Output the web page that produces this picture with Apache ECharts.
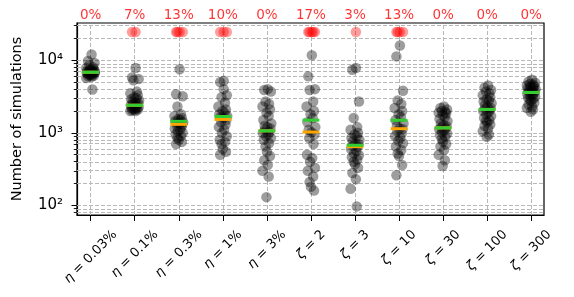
<!DOCTYPE html>
<html><head><meta charset="utf-8">
<script src="https://cdn.jsdelivr.net/npm/echarts@6/dist/echarts.min.js"></script>
<style>html,body{margin:0;padding:0;background:#fff}#c{width:574px;height:297px}</style>
</head><body><div id="c"></div>
<script>
// ---- data ----
const catSymbol = ['η','η','η','η','η','ζ','ζ','ζ','ζ','ζ','ζ'];
const catValue = ['0.03%','0.1%','0.3%','1%','3%','2','3','10','30','100','300'];
const failPct = ['0%','7%','13%','10%','0%','17%','3%','13%','0%','0%','0%'];
const failCount = [0,2,4,3,0,5,1,4,0,0,0];
const failValue = 24500;

const eta003 = [12000,9800,9200,8600,8000,7800,7500,7300,7200,7100,7000,6950,6900,6850,6800,6800,6750,6700,6650,6600,6500,6400,6300,6200,6100,6000,5900,5700,3950,7400];
const eta01 = [7800,5800,5500,5300,3700,3500,3300,3100,3000,2900,2800,2700,2600,2550,2500,2450,2400,2350,2300,2250,2200,2200,2150,2100,2100,2050,2000,2000];
const eta03 = [7500,3400,3200,2300,1800,1700,1600,1550,1500,1450,1400,1380,1350,1300,1250,1200,1150,1100,1050,1000,950,900,850,800,750,700];
const eta1 = [5200,5000,3300,3100,2600,2300,2100,2000,1900,1800,1700,1650,1600,1500,1400,1300,1200,1100,1000,900,800,750,700,600,550,500,4000];
const eta3 = [4000,3900,3700,2700,2500,2300,2100,1900,1700,1500,1350,1250,1200,1150,1100,1030,1000,950,900,850,800,720,650,550,480,420,360,300,250,130];
const zeta2 = [11700,6000,4000,3900,2700,2300,2000,1800,1600,1400,1200,1100,1020,950,850,700,500,450,400,330,300,250,210,180,160];
const zeta3 = [7800,7400,2700,1600,1200,1100,1000,950,900,850,800,760,720,690,660,640,600,560,520,490,460,430,400,370,330,280,230,170,97];
const zeta10 = [16000,11300,3800,2800,2500,2200,2000,1800,1650,1500,1350,1250,1150,1130,1050,980,900,850,780,720,650,580,520,480,360,260];
const zeta30 = [2300,2200,2100,2000,1950,1900,1850,1750,1650,1550,1450,1350,1280,1230,1180,1160,1120,1070,1020,980,930,880,820,760,700,650,580,500,420,350];
const zeta100 = [4500,4200,3900,3700,3500,3300,3100,2900,2800,2700,2550,2400,2300,2200,2150,2050,2000,1900,1800,1700,1600,1500,1450,1400,1300,1250,1150,1050,950,880];
const zeta300 = [5400,5100,4900,4700,4600,4500,4400,4300,4200,4100,4000,3900,3800,3700,3650,3550,3450,3350,3250,3150,3050,2950,2850,2750,2600,2450,2300,2200,2100,1950];

const medianAll = [6840,2400,1440,1680,1065,1495,675,1490,1170,2100,3600];   // green
const medianOk  = [6840,2400,1310,1530,1065,1025,645,1140,1170,2100,3600];   // orange

const jitter = [0.02,-0.06,0.09,-0.03,0.05,-0.10,0.07,-0.01,0.04,-0.08,0.10,-0.05,0.01,0.08,-0.04,0.06,-0.09,0.03,-0.02,0.09,-0.07,0.05,-0.03,0.00,0.07,-0.06,0.02,-0.10,0.04,-0.01];

const yTickValues = [100,1000,10000];
const yTickLabels = ['10²','10³','10⁴'];
const yMinorValues = [80,90,200,300,400,500,600,700,800,900,2000,3000,4000,5000,6000,7000,8000,9000,20000,30000];
const yMin = 73.8, yMax = 32600;

// ---- build ----
const cols = [eta003,eta01,eta03,eta1,eta3,zeta2,zeta3,zeta10,zeta30,zeta100,zeta300];
const L = Math.log10;
const FONT = '"DejaVu Sans"';
const xFont = 13;
const idx = catValue.map((_, i) => i);

const pts = [];
cols.forEach((arr, i) => arr.forEach((v, k) => pts.push([i + jitter[k % jitter.length], L(v)])));
const fails = [];
failCount.forEach((n, i) => { for (let k = 0; k < n; k++) fails.push([i + jitter[k], L(failValue)]); });

// label layout: matplotlib centers rotated tick labels on the tick, tops aligned
const cv = document.createElement('canvas').getContext('2d');
const widths = idx.map(i => {
  cv.font = 'italic ' + xFont + 'px ' + FONT; const a = cv.measureText(catSymbol[i]).width;
  cv.font = xFont + 'px ' + FONT; const b = cv.measureText(' = ' + catValue[i]).width;
  return a + b;
});
const Lmin = Math.min(...widths);
const rich = {};
idx.forEach(i => {
  const p = (widths[i] - Lmin) / 2;
  rich['g' + i] = {fontStyle: 'italic', fontSize: xFont, fontFamily: FONT, color: '#000', padding: [p, 0, 0, 0]};
  rich['t' + i] = {fontSize: xFont, fontFamily: FONT, color: '#000', padding: [p, p, 0, 0]};
});
const xMargin = 13 + (Lmin + xFont) / (2 * Math.SQRT2);

const gridLineStyle = {color: '#b8b8b8', width: 1, type: [4, 2]};
const hLines = yTickValues.concat(yMinorValues).map(v => ({yAxis: L(v)}));
const vLines = idx.map(i => ({xAxis: i}));

const chart = echarts.init(document.getElementById('c'), null, {renderer: 'canvas'});
chart.setOption({
  animation: false,
  textStyle: {fontFamily: FONT},
  grid: {left: 77, right: 30, top: 23, bottom: 82, show: true, borderColor: '#000', borderWidth: 1.2, backgroundColor: 'transparent'},
  xAxis: {
    type: 'value', min: -0.31, max: 10.29,
    axisLine: {show: true, onZero: false, lineStyle: {color: '#000', width: 1.2}},
    axisTick: {show: true, customValues: idx, length: 6, lineStyle: {color: '#000', width: 1}},
    axisLabel: {
      show: true, customValues: idx, rotate: 45, align: 'center', verticalAlign: 'middle',
      margin: xMargin, rich: rich,
      formatter: v => { const i = Math.round(v); return '{g' + i + '|' + catSymbol[i] + '}{t' + i + '| = ' + catValue[i] + '}'; }
    },
    splitLine: {show: false}
  },
  yAxis: [{
    type: 'value', min: L(yMin), max: L(yMax), position: 'left',
    name: 'Number of simulations', nameLocation: 'middle', nameGap: 52,
    nameTextStyle: {fontSize: 14.5, color: '#000', fontFamily: FONT},
    axisLine: {show: true, onZero: false, lineStyle: {color: '#000', width: 1.2}},
    axisTick: {show: true, customValues: yTickValues.map(L), length: 5.5, lineStyle: {color: '#000', width: 1}},
    axisLabel: {show: true, customValues: yTickValues.map(L), margin: 14, fontSize: 15, color: '#000', fontFamily: FONT,
      formatter: v => { const j = yTickValues.findIndex(t => Math.abs(L(t) - v) < 1e-6); return j >= 0 ? yTickLabels[j] : ''; }},
    splitLine: {show: false}
  }, {
    type: 'value', min: L(yMin), max: L(yMax), position: 'left',
    axisLine: {show: false, onZero: false},
    axisTick: {show: true, customValues: yMinorValues.map(L), length: 3.2, lineStyle: {color: '#000', width: 0.9}},
    axisLabel: {show: false},
    splitLine: {show: false}
  }],
  series: [
    {type: 'scatter', data: [], silent: true, z: 1,
     markLine: {silent: true, z: 1, symbol: 'none', label: {show: false}, lineStyle: gridLineStyle, emphasis: {disabled: true},
       data: hLines.concat(vLines)}},
    {type: 'scatter', data: pts, symbolSize: 10.5, silent: true, z: 10,
     itemStyle: {color: 'rgba(0,0,0,0.48)'}},
    {type: 'scatter', data: fails, symbolSize: 10.5, silent: true, z: 11,
     itemStyle: {color: 'rgba(255,0,0,0.48)'}},
    {type: 'custom', data: medianOk.map((m, i) => [i, L(m)]), silent: true, z: 12,
     renderItem: (p, api) => { const a = api.coord([api.value(0) - 0.19, api.value(1)]); const b = api.coord([api.value(0) + 0.19, api.value(1)]);
       return {type: 'line', shape: {x1: a[0], y1: a[1], x2: b[0], y2: b[1]}, style: {stroke: '#ffa500', lineWidth: 3}}; }},
    {type: 'custom', data: medianAll.map((m, i) => [i, L(m)]), silent: true, z: 13,
     renderItem: (p, api) => { const a = api.coord([api.value(0) - 0.19, api.value(1)]); const b = api.coord([api.value(0) + 0.19, api.value(1)]);
       return {type: 'line', shape: {x1: a[0], y1: a[1], x2: b[0], y2: b[1]}, style: {stroke: '#32cd32', lineWidth: 3}}; }},
    {type: 'scatter', data: idx.map(i => [i, L(yMax)]), symbolSize: 1, silent: true, z: 14, clip: false,
     itemStyle: {color: 'rgba(0,0,0,0)'},
     label: {show: true, position: 'top', distance: 0, color: '#ff0000', fontSize: 13.5, fontFamily: FONT,
       formatter: p => failPct[p.dataIndex]}}
  ]
});
</script></body></html>
